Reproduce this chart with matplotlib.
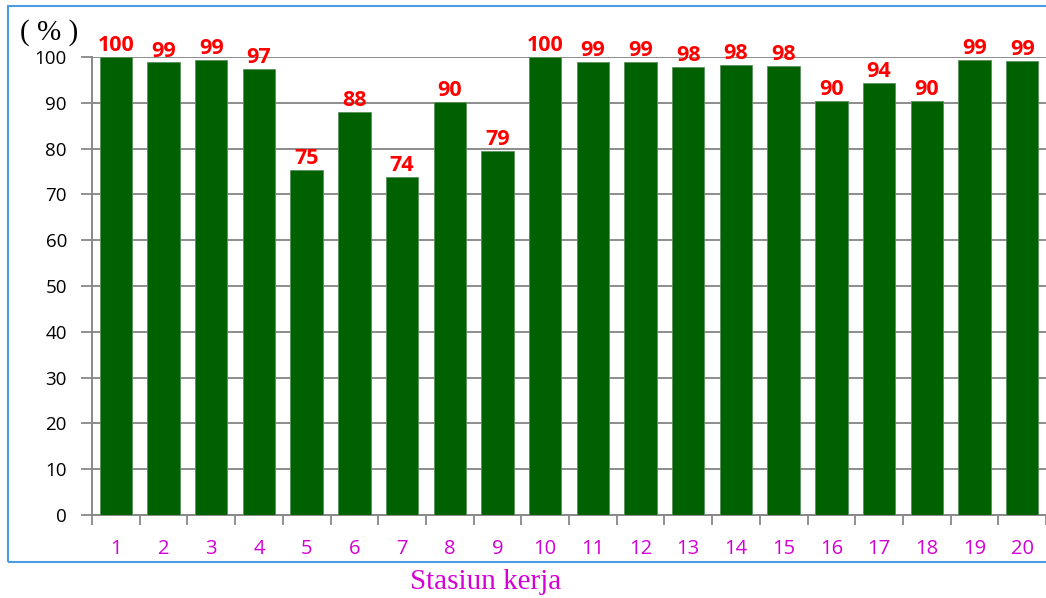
import matplotlib
matplotlib.use("Agg")
import matplotlib.pyplot as plt
from matplotlib.patches import Rectangle

categories = [str(i) for i in range(1, 21)]
values = [100, 98.8, 99.3, 97.3, 75.3, 88.0, 73.8, 90.2, 79.5, 100,
          98.9, 98.9, 97.8, 98.3, 98.1, 90.4, 94.4, 90.4, 99.4, 99.1]
labels = ["100", "99", "99", "97", "75", "88", "74", "90", "79", "100",
          "99", "99", "98", "98", "98", "90", "94", "90", "99", "99"]
yticks = list(range(0, 101, 10))

W, H = 1046, 598
fig = plt.figure(figsize=(W / 100, H / 100), dpi=100)
ax = fig.add_axes([92 / W, 1 - 515 / H, (1046 - 92) / W, (515 - 57) / H])

x = list(range(len(categories)))
ax.bar(x, values, width=0.68, color="#006100", edgecolor="#5a8f5a", linewidth=0.6, zorder=3)
for xi, v, lab in zip(x, values, labels):
    ax.text(xi, v + 1.3, lab, ha="center", va="baseline", color="#ff0000",
            fontsize=15.5, fontweight="bold", family="Open Sans", clip_on=False, zorder=4)

ax.set_xlim(-0.5, len(categories) - 0.5)
ax.set_ylim(0, 100)
ax.set_yticks(yticks)
ax.set_yticklabels([str(t) for t in yticks], fontsize=13.5, family="Open Sans", color="black")
ax.set_xticks(x)
ax.set_xticklabels(categories, fontsize=14.5, family="Open Sans", color="#d400d4")
ax.set_xticks([i - 0.5 for i in range(len(categories) + 1)], minor=True)
ax.tick_params(axis="x", which="major", length=0, pad=17)
ax.tick_params(axis="x", which="minor", length=7, width=1.3, color="#888888", direction="out")
ax.tick_params(axis="y", length=8, width=1.3, color="#888888", pad=10)
ax.grid(axis="y", color="#8c8c8c", linewidth=1.4, zorder=0)
for s in ["top", "right"]:
    ax.spines[s].set_visible(False)
for s in ["left", "bottom"]:
    ax.spines[s].set_color("#888888")
    ax.spines[s].set_linewidth(1.4)

fig.text(49 / W, 1 - 33 / H, "( % )", ha="center", va="center", fontsize=21,
         family="Liberation Serif", color="black")
fig.text(486 / W, 1 - 582 / H, "Stasiun kerja", ha="center", va="center", fontsize=21,
         family="Liberation Serif", color="#d400d4")

fig.patches.append(Rectangle((8 / W, 1 - 562 / H), (1060 - 8) / W, (562 - 6) / H,
                             transform=fig.transFigure, fill=False,
                             edgecolor="#4a9de0", linewidth=1.5, clip_on=False))

fig.savefig("out.png", dpi=100)
